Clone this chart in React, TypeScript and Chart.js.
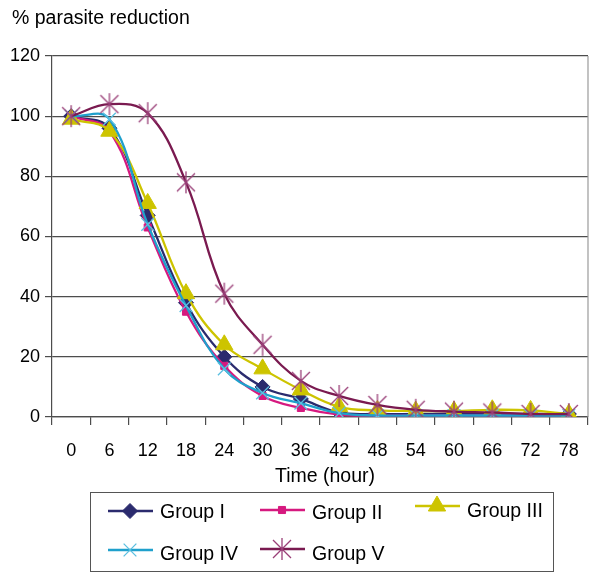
import React, { useEffect, useRef } from 'react';
import { Chart, registerables } from 'chart.js';
import { drawPoint } from 'chart.js/helpers';

Chart.register(...registerables);

const hours = ['0', '6', '12', '18', '24', '30', '36', '42', '48', '54', '60', '66', '72', '78'];
const groupI = [100, 96, 67, 38, 20, 10, 6, 1.5, 1, 1, 1, 1, 1, 1];
const groupII = [100, 95, 63, 35, 17, 7, 3, 0.8, 0.5, 0.5, 0.5, 0.5, 0.5, 0.5];
const groupIII = [99, 95, 71, 41, 24, 16, 9, 3.4, 2.2, 2, 2, 2.4, 2.2, 1];
const groupIV = [100, 99, 64, 37, 16, 8, 4.6, 1.3, 0.5, 0.5, 0.5, 0.5, 0.5, 0.5];
const groupV = [100, 104, 101, 78, 41, 24, 12, 7, 4, 2.4, 1.8, 1.5, 1, 1];

const seriesNames = ['Group I', 'Group II', 'Group III', 'Group IV', 'Group V'];
const seriesColors = ['#2b2b6e', '#d6197f', '#cdc400', '#1fa0cc', '#7a1a50'];
const yTicks = { min: 0, max: 120, step: 20 };

const FONT = "'Liberation Sans', Arial, sans-serif";

function makeAsterisk(color: string) {
  const c = document.createElement('canvas');
  c.width = 24;
  c.height = 24;
  const g = c.getContext('2d')!;
  g.strokeStyle = color;
  g.lineWidth = 1.3;
  g.beginPath();
  g.moveTo(12, 1);
  g.lineTo(12, 23);
  g.moveTo(3, 3);
  g.lineTo(21, 21);
  g.moveTo(21, 3);
  g.lineTo(3, 21);
  g.stroke();
  return c;
}

export default function App() {
  const ref = useRef<HTMLCanvasElement | null>(null);

  useEffect(() => {
    if (!ref.current) return;
    const asterisk = makeAsterisk('#9a3f78');
    const values = [groupI, groupII, groupIII, groupIV, groupV];
    const styles: any[] = [
      { pointStyle: 'rectRot', pointRadius: 7.5, pointBorderWidth: 1 },
      { pointStyle: 'rect', pointRadius: 5, pointBorderWidth: 1 },
      { pointStyle: 'triangle', pointRadius: 10, pointBorderWidth: 1 },
      { pointStyle: 'crossRot', pointRadius: 9, pointBorderWidth: 1.3 },
      { pointStyle: asterisk, pointRadius: 11, pointBorderWidth: 1 },
    ];
    const datasets = values.map((v, i) => ({
      label: seriesNames[i],
      data: v,
      borderColor: seriesColors[i],
      backgroundColor: seriesColors[i],
      pointBackgroundColor: seriesColors[i],
      pointBorderColor: i === 3 ? '#5bbfe0' : seriesColors[i],
      borderWidth: 2.3,
      tension: 0.4,
      order: 5 - i,
      ...styles[i],
    }));

    const overlay = {
      id: 'overlay',
      beforeDatasetsDraw(chart: any) {
        const { ctx, chartArea } = chart;
        ctx.save();
        ctx.strokeStyle = '#9a9a9a';
        ctx.lineWidth = 1.2;
        ctx.beginPath();
        ctx.moveTo(chartArea.right, chartArea.top);
        ctx.lineTo(chartArea.right, chartArea.bottom);
        ctx.stroke();
        ctx.restore();
      },
      afterDraw(chart: any) {
        const { ctx } = chart;
        ctx.save();
        ctx.fillStyle = '#000';
        ctx.font = `19.5px ${FONT}`;
        ctx.textBaseline = 'alphabetic';
        ctx.textAlign = 'left';
        ctx.fillText('% parasite reduction', 12, 24);
        ctx.textAlign = 'center';
        ctx.fillText('Time (hour)', 325, 482);

        // legend box
        ctx.strokeStyle = '#555';
        ctx.lineWidth = 1;
        ctx.strokeRect(90.5, 492.5, 463, 79);
        const pos = [
          { x: 108, y: 511, ty: 513 },
          { x: 260, y: 510, ty: 514 },
          { x: 415, y: 506, ty: 512 },
          { x: 108, y: 550, ty: 555 },
          { x: 260, y: 549, ty: 555 },
        ];
        chart.data.datasets.forEach((ds: any, i: number) => {
          const p = pos[i];
          ctx.strokeStyle = ds.borderColor;
          ctx.lineWidth = 2.3;
          ctx.beginPath();
          ctx.moveTo(p.x, p.y);
          ctx.lineTo(p.x + 45, p.y);
          ctx.stroke();
          ctx.fillStyle = ds.pointBackgroundColor;
          ctx.strokeStyle = ds.pointBorderColor;
          ctx.lineWidth = ds.pointBorderWidth;
          drawPoint(ctx, { pointStyle: ds.pointStyle, radius: ds.pointRadius, rotation: 0, borderWidth: ds.pointBorderWidth } as any, p.x + 22, p.y);
          ctx.fillStyle = '#000';
          ctx.font = `19.5px ${FONT}`;
          ctx.textAlign = 'left';
          ctx.textBaseline = 'middle';
          ctx.fillText(ds.label, p.x + 52, p.ty);
        });
        ctx.restore();
      },
    };

    const chart = new Chart(ref.current, {
      type: 'line',
      data: { labels: hours, datasets },
      options: {
        responsive: false,
        animation: false,
        layout: { padding: { left: 0, top: 56, right: 11, bottom: 0 } },
        plugins: { legend: { display: false }, tooltip: { enabled: false }, title: { display: false } },
        scales: {
          x: {
            type: 'category',
            offset: true,
            afterFit: (s: any) => { s.height = 160; },
            grid: { offset: true, drawOnChartArea: false, drawTicks: true, tickLength: 8, color: '#4d4d4d', lineWidth: 1.2 },
            border: { display: true, color: '#4d4d4d', width: 1.2 },
            ticks: { color: '#000', font: { family: FONT, size: 18 }, padding: 15, maxRotation: 0, autoSkip: false },
          },
          y: {
            min: yTicks.min,
            max: yTicks.max,
            afterFit: (s: any) => { s.width = 52; },
            grid: { color: '#4d4d4d', lineWidth: 1.2, tickLength: 7, drawTicks: true },
            border: { display: true, color: '#4d4d4d', width: 1.2 },
            ticks: { stepSize: yTicks.step, color: '#000', font: { family: FONT, size: 18 }, padding: 5 },
          },
        },
      },
      plugins: [overlay],
    });
    return () => chart.destroy();
  }, []);

  return (
    <div style={{ position: 'absolute', left: 0, top: 0, width: 600, height: 577, background: '#fff' }}>
      <canvas ref={ref} width={600} height={577} style={{ display: 'block' }} />
    </div>
  );
}
